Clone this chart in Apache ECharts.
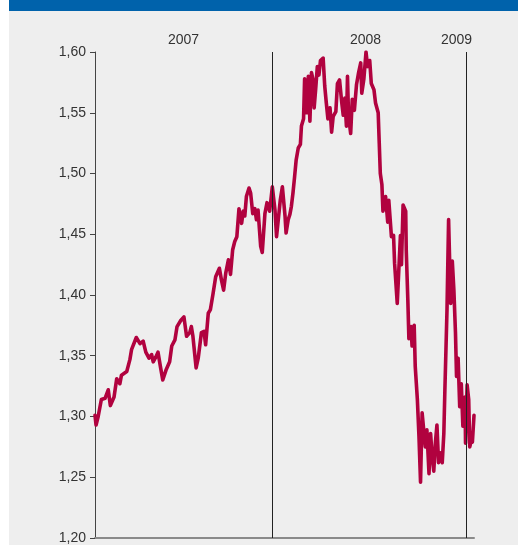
<!DOCTYPE html>
<html>
<head>
<meta charset="utf-8">
<script src="https://cdn.jsdelivr.net/npm/echarts@6/dist/echarts.min.js"></script>
<style>
html,body{margin:0;padding:0;background:#fff;}
#wrap{position:relative;width:518px;height:545px;background:#fff;overflow:hidden;}
#band{position:absolute;left:9px;top:0;width:509px;height:11px;background:#0062ab;}
#bg{position:absolute;left:9px;top:11px;width:509px;height:534px;background:#eeeeee;}
#chart{position:absolute;left:0;top:0;width:518px;height:545px;}
</style>
</head>
<body>
<div id="wrap"><div id="band"></div><div id="bg"></div><div id="chart"></div></div>
<script>
const dates = [
'2007-01-31','2007-02-02','2007-02-06','2007-02-12','2007-02-19','2007-02-25','2007-03-01','2007-03-08','2007-03-13','2007-03-19',
'2007-03-22','2007-04-01','2007-04-07','2007-04-10','2007-04-19','2007-04-26','2007-05-02','2007-05-07','2007-05-13','2007-05-18',
'2007-05-21','2007-05-26','2007-05-30','2007-06-04','2007-06-08','2007-06-14','2007-06-21','2007-06-25','2007-07-01','2007-07-05',
'2007-07-12','2007-07-18','2007-07-23','2007-07-29','2007-08-01','2007-08-04','2007-08-10','2007-08-14','2007-08-20','2007-08-25',
'2007-08-28','2007-09-02','2007-09-06','2007-09-11','2007-09-16','2007-09-23','2007-09-27','2007-10-01','2007-10-05','2007-10-10',
'2007-10-14','2007-10-18','2007-10-22','2007-10-26','2007-10-30','2007-11-04','2007-11-07','2007-11-10','2007-11-13','2007-11-18',
'2007-11-21','2007-11-25','2007-11-29','2007-12-02','2007-12-05','2007-12-10','2007-12-13','2007-12-18','2007-12-22','2007-12-27',
'2008-01-01','2008-01-06','2008-01-09','2008-01-12','2008-01-16','2008-01-20','2008-01-25','2008-01-27','2008-01-31','2008-02-03',
'2008-02-06','2008-02-09','2008-02-12','2008-02-15','2008-02-19','2008-02-23','2008-02-25','2008-02-29','2008-03-02','2008-03-06',
'2008-03-09','2008-03-12','2008-03-15','2008-03-18','2008-03-20','2008-03-23','2008-03-26','2008-03-29','2008-04-01','2008-04-06',
'2008-04-09','2008-04-12','2008-04-15','2008-04-19','2008-04-22','2008-04-25','2008-04-30','2008-05-03','2008-05-07','2008-05-11',
'2008-05-14','2008-05-17','2008-05-20','2008-05-22','2008-05-24','2008-05-28','2008-05-31','2008-06-04','2008-06-08','2008-06-12',
'2008-06-16','2008-06-18','2008-06-22','2008-06-26','2008-06-29','2008-07-03','2008-07-06','2008-07-11','2008-07-14','2008-07-19',
'2008-07-21','2008-07-23','2008-07-26','2008-07-28','2008-08-02','2008-08-06','2008-08-08','2008-08-11','2008-08-13','2008-08-17',
'2008-08-19','2008-08-24','2008-08-27','2008-08-30','2008-09-01','2008-09-04','2008-09-09','2008-09-10','2008-09-13','2008-09-15',
'2008-09-19','2008-09-21','2008-09-25','2008-09-27','2008-10-01','2008-10-04','2008-10-07','2008-10-10','2008-10-13','2008-10-16',
'2008-10-19','2008-10-23','2008-10-26','2008-10-29','2008-11-01','2008-11-04','2008-11-07','2008-11-10','2008-11-14','2008-11-17',
'2008-11-20','2008-11-22','2008-11-24','2008-11-26','2008-11-29','2008-12-03','2008-12-06','2008-12-09','2008-12-12','2008-12-14',
'2008-12-17','2008-12-20','2008-12-23','2008-12-26','2008-12-30','2008-12-31','2009-01-03','2009-01-06','2009-01-08','2009-01-11',
'2009-01-13','2009-01-16'
];
const rates = [
1.301,1.293,1.300,1.314,1.315,1.322,1.309,1.316,1.331,1.327,
1.334,1.337,1.347,1.355,1.365,1.360,1.362,1.353,1.348,1.351,
1.345,1.349,1.353,1.340,1.330,1.338,1.345,1.358,1.363,1.374,
1.379,1.382,1.366,1.369,1.374,1.366,1.340,1.348,1.369,1.370,
1.359,1.385,1.388,1.401,1.415,1.422,1.412,1.404,1.418,1.429,
1.417,1.437,1.444,1.448,1.471,1.459,1.469,1.465,1.481,1.488,
1.484,1.467,1.471,1.462,1.470,1.440,1.435,1.467,1.476,1.469,
1.489,1.470,1.448,1.449,1.478,1.489,1.465,1.451,1.462,1.466,
1.473,1.484,1.497,1.511,1.521,1.524,1.539,1.545,1.578,1.550,
1.580,1.543,1.583,1.577,1.554,1.570,1.588,1.581,1.593,1.595,
1.572,1.558,1.545,1.554,1.534,1.547,1.551,1.574,1.577,1.559,
1.548,1.562,1.539,1.580,1.547,1.533,1.561,1.552,1.573,1.583,
1.591,1.566,1.578,1.600,1.588,1.593,1.574,1.569,1.558,1.550,
1.525,1.500,1.491,1.469,1.481,1.460,1.478,1.477,1.448,1.449,
1.426,1.393,1.421,1.449,1.425,1.474,1.469,1.437,1.396,1.364,
1.374,1.358,1.375,1.341,1.314,1.284,1.246,1.303,1.289,1.275,
1.289,1.253,1.286,1.267,1.255,1.278,1.293,1.262,1.270,1.262,
1.286,1.322,1.355,1.388,1.462,1.393,1.428,1.404,1.369,1.333,
1.348,1.308,1.327,1.292,1.316,1.278,1.326,1.314,1.275,1.281,
1.279,1.301
];
const yearLabels = ['2007','2008','2009'];
const yearBoundaries = ['2008-01-01','2009-01-01'];
const axisStart = '2007-01-31';
const axisEnd = '2009-01-16';

const chart = echarts.init(document.getElementById('chart'), null, {renderer:'canvas'});
const textFont = {fontFamily:'"Liberation Sans", Arial, sans-serif', fontSize:14, fill:'#333'};
const yearX = [184, 366, 457];
chart.setOption({
  backgroundColor:'transparent',
  animation:false,
  grid:{left:95, right:44, top:52, bottom:7, containLabel:false},
  xAxis:{
    type:'time', min:axisStart, max:axisEnd,
    axisLine:{show:true, lineStyle:{color:'#8a8a8a', width:2}},
    axisTick:{show:false}, axisLabel:{show:false}, splitLine:{show:false}
  },
  yAxis:{
    type:'value', min:1.2, max:1.6, interval:0.05,
    axisLine:{show:true, lineStyle:{color:'#444', width:1}},
    axisTick:{show:true, length:5, lineStyle:{color:'#444'}},
    axisLabel:{margin:9, color:'#333', fontSize:14, fontFamily:'"Liberation Sans", Arial, sans-serif',
      formatter: v => v.toFixed(2).replace('.', ',')},
    splitLine:{show:false}
  },
  graphic: yearLabels.map((t,i)=>({
    type:'text', left: yearX[i]-16, top: 33,
    style: Object.assign({text:t}, textFont)
  })),
  series:[{
    type:'line',
    data: dates.map((d,i)=>[d, rates[i]]),
    showSymbol:false, smooth:false,
    lineStyle:{color:'#b1023f', width:3.6, join:'round', cap:'round'},
    z:3,
    markLine:{
      silent:true, symbol:['none','none'],
      label:{show:false},
      lineStyle:{color:'#222', width:1, type:'solid'},
      data: yearBoundaries.map(d=>({xAxis:d}))
    }
  }]
});
</script>
</body>
</html>
